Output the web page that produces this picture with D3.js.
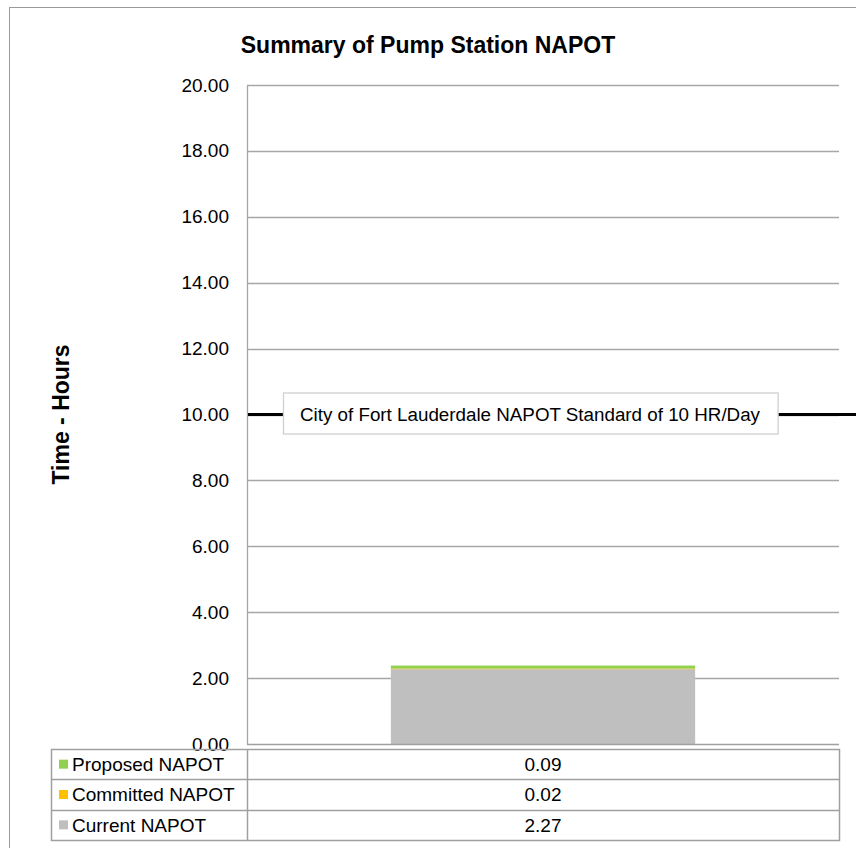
<!DOCTYPE html>
<html>
<head>
<meta charset="utf-8">
<script src="https://cdn.jsdelivr.net/npm/d3@7"></script>
<style>
  body { margin: 0; background: #fff; }
  svg { display: block; font-family: "Liberation Sans", Arial, sans-serif; }
</style>
</head>
<body>
<div id="chart"></div>
<script>
// chart data
var categories = ["Pump Station"];
var seriesNames = ["Current NAPOT", "Committed NAPOT", "Proposed NAPOT"];
var seriesValues = [2.27, 0.02, 0.09];
var seriesColors = ["#bfbfbf", "#ffc000", "#92d050"];
var yTickValues = [0, 2, 4, 6, 8, 10, 12, 14, 16, 18, 20];
var standardValue = 10;
var standardLabel = "City of Fort Lauderdale NAPOT Standard of 10 HR/Day";
var chartTitle = "Summary of Pump Station NAPOT";
var yTitle = "Time - Hours";

var width = 856, height = 848;
var plot = {left: 247, right: 839, top: 85, bottom: 744};
var table = {left: 51, split: 247, right: 839, top: 749, bottom: 840};

var svg = d3.select("#chart")
      .append("svg")
      .attr("width", width)
      .attr("height", height);

// outer chart border (runs off the page on the right and bottom)
svg.append("rect")
  .attr("x", 9.5).attr("y", 7.5)
  .attr("width", 860).attr("height", 860)
  .attr("fill", "none")
  .attr("stroke", "#9a9a9a")
  .attr("stroke-width", 1);

var xScale = d3.scaleBand()
      .domain(categories)
      .range([plot.left, plot.right])
      .paddingInner(0.486)
      .paddingOuter(0.243);

var yScale = d3.scaleLinear()
      .domain([0, 20])
      .range([plot.bottom, plot.top]);

// gridlines
svg.append("g")
  .selectAll("line")
  .data(yTickValues.filter(function(d) { return d > 0; }))
  .enter()
  .append("line")
  .attr("x1", plot.left).attr("x2", plot.right)
  .attr("y1", function(d) { return Math.round(yScale(d)) + 0.5; })
  .attr("y2", function(d) { return Math.round(yScale(d)) + 0.5; })
  .attr("stroke", "#a6a6a6")
  .attr("stroke-width", 1.3);

// stacked bar
var row = {};
seriesNames.forEach(function(n, i) { row[n] = seriesValues[i]; });
var stacked = d3.stack().keys(seriesNames)([row]);

svg.append("g")
  .selectAll("rect")
  .data(stacked)
  .enter()
  .append("rect")
  .attr("x", xScale(categories[0]))
  .attr("width", xScale.bandwidth())
  .attr("y", function(d) { return yScale(d[0][1]); })
  .attr("height", function(d) { return yScale(d[0][0]) - yScale(d[0][1]); })
  .attr("fill", function(d, i) { return seriesColors[i]; });

// y axis
var yAxis = d3.axisLeft(yScale)
      .tickValues(yTickValues)
      .tickFormat(d3.format(".2f"))
      .tickSize(0)
      .tickPadding(18);

var yAxisG = svg.append("g")
      .attr("transform", "translate(" + plot.left + ",0)")
      .call(yAxis);
yAxisG.select(".domain")
  .attr("stroke", "#a6a6a6")
  .attr("stroke-width", 1.3);
yAxisG.selectAll("text")
  .attr("font-size", 19)
  .attr("font-family", "Liberation Sans, Arial, sans-serif")
  .attr("fill", "#000");

// x axis base line
svg.append("line")
  .attr("x1", plot.left).attr("x2", plot.right)
  .attr("y1", yScale(0) + 0.5).attr("y2", yScale(0) + 0.5)
  .attr("stroke", "#a0a0a0")
  .attr("stroke-width", 1.5);

// standard line
svg.append("line")
  .attr("x1", plot.left + 1).attr("x2", width)
  .attr("y1", yScale(standardValue)).attr("y2", yScale(standardValue))
  .attr("stroke", "#000")
  .attr("stroke-width", 3);

var labelG = svg.append("g");
var labelBox = labelG.append("rect")
      .attr("fill", "#fff")
      .attr("stroke", "#d0d0d0")
      .attr("stroke-width", 1.3);
var labelText = labelG.append("text")
      .attr("x", 300)
      .attr("y", yScale(standardValue))
      .attr("dy", "0.35em")
      .attr("font-size", 18.8)
      .text(standardLabel);
var bb = labelText.node().getBBox();
labelBox
  .attr("x", 283.5)
  .attr("y", yScale(standardValue) - 21.5)
  .attr("width", bb.width + 34)
  .attr("height", 41);

// titles
svg.append("text")
  .attr("x", 428)
  .attr("y", 53)
  .attr("text-anchor", "middle")
  .attr("font-size", 23)
  .attr("font-weight", "bold")
  .text(chartTitle);

svg.append("text")
  .attr("transform", "translate(69," + ((plot.top + plot.bottom) / 2) + ") rotate(-90)")
  .attr("text-anchor", "middle")
  .attr("font-size", 23)
  .attr("font-weight", "bold")
  .text(yTitle);

// data table below the plot
var tableOrder = seriesNames.slice().reverse();
var rowScale = d3.scaleBand()
      .domain(tableOrder)
      .range([table.top, table.bottom]);

var tableG = svg.append("g");

tableG.append("rect")
  .attr("x", table.left + 0.5).attr("y", table.top + 0.5)
  .attr("width", table.right - table.left).attr("height", table.bottom - table.top)
  .attr("fill", "none")
  .attr("stroke", "#a0a0a0")
  .attr("stroke-width", 1.5);

tableG.append("line")
  .attr("x1", table.split + 0.5).attr("x2", table.split + 0.5)
  .attr("y1", table.top).attr("y2", table.bottom)
  .attr("stroke", "#a0a0a0")
  .attr("stroke-width", 1.5);

tableG.selectAll(".sep")
  .data(tableOrder.slice(1))
  .enter()
  .append("line")
  .attr("class", "sep")
  .attr("x1", table.left).attr("x2", table.right)
  .attr("y1", function(d) { return Math.round(rowScale(d)) + 0.5; })
  .attr("y2", function(d) { return Math.round(rowScale(d)) + 0.5; })
  .attr("stroke", "#a0a0a0")
  .attr("stroke-width", 1.5);

var rows = tableG.selectAll(".trow")
      .data(tableOrder)
      .enter()
      .append("g")
      .attr("class", "trow")
      .attr("transform", function(d) {
        return "translate(0," + (rowScale(d) + rowScale.bandwidth() / 2) + ")"; });

rows.append("rect")
  .attr("x", 59).attr("y", -4.5)
  .attr("width", 9).attr("height", 9)
  .attr("fill", function(d) { return seriesColors[seriesNames.indexOf(d)]; });

rows.append("text")
  .attr("x", 72)
  .attr("dy", "0.36em")
  .attr("font-size", 19)
  .text(function(d) { return d; });

rows.append("text")
  .attr("x", xScale(categories[0]) + xScale.bandwidth() / 2)
  .attr("dy", "0.36em")
  .attr("text-anchor", "middle")
  .attr("font-size", 19)
  .text(function(d) { return seriesValues[seriesNames.indexOf(d)].toFixed(2); });
</script>
</body>
</html>
